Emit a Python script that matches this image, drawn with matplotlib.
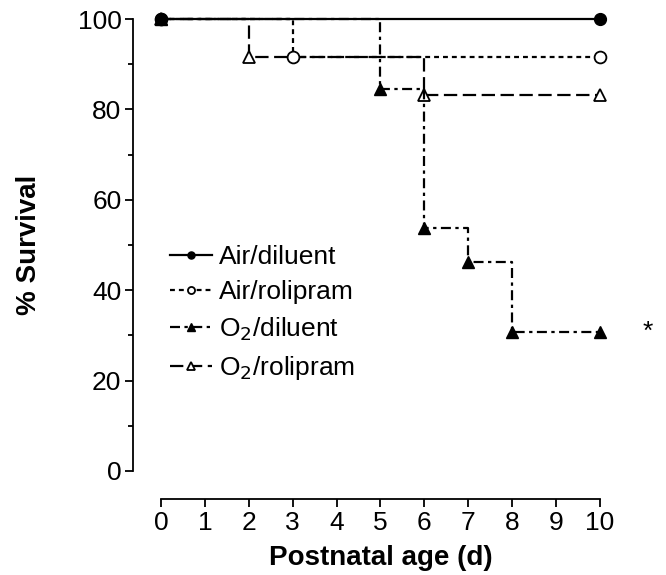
import numpy as np
from matplotlib import pyplot as plt

plt.rcParams['font.family'] = ['Liberation Sans', 'DejaVu Sans']

# survival curves (day, % survival)
air_dil_x = [0, 10]
air_dil_y = [100, 100]
air_rol_x = [0, 3, 10]
air_rol_y = [100, 91.7, 91.7]
o2_dil_x = [0, 5, 6, 7, 8, 10]
o2_dil_y = [100, 84.6, 53.8, 46.2, 30.8, 30.8]
o2_rol_x = [0, 2, 6, 10]
o2_rol_y = [100, 91.7, 83.3, 83.3]

labels = ['Air/diluent', 'Air/rolipram', 'O$_2$/diluent', 'O$_2$/rolipram']

fig = plt.figure(figsize=(6.66, 5.75), dpi=100)
ax = fig.add_axes([0.2417, 0.1809, 0.659, 0.786])

lw = 1.6
h4, = ax.plot(o2_rol_x, o2_rol_y, drawstyle='steps-post', color='black', lw=lw,
              dashes=(6, 2.5), marker='^', mfc='white', mec='black', ms=9, mew=1.3,
              zorder=2, clip_on=False, label=labels[3])
h3, = ax.plot(o2_dil_x, o2_dil_y, drawstyle='steps-post', color='black', lw=lw,
              dashes=(4.5, 2, 1.5, 2), marker='^', mfc='black', mec='black', ms=9,
              zorder=3, clip_on=False, label=labels[2])
h2, = ax.plot(air_rol_x, air_rol_y, drawstyle='steps-post', color='black', lw=lw,
              dashes=(2.2, 1.8), marker='o', mfc='white', mec='black', ms=8.5, mew=1.3,
              zorder=4, clip_on=False, label=labels[1])
h1, = ax.plot(air_dil_x, air_dil_y, drawstyle='steps-post', color='black', lw=lw,
              marker='o', mfc='black', mec='black', ms=8.5, zorder=5, clip_on=False,
              label=labels[0])

ax.text(11.1, 30.8, '*', fontsize=19, ha='center', va='center', clip_on=False)

ax.set_xlim(0, 10)
ax.set_ylim(0, 100)
ax.set_xticks(range(0, 11))
ax.set_yticks(range(0, 101, 20))
ax.set_yticks(range(10, 100, 20), minor=True)

for s in ['top', 'right']:
    ax.spines[s].set_visible(False)
ax.spines['left'].set_position(('outward', 20))
ax.spines['bottom'].set_position(('outward', 20))
ax.spines['left'].set_bounds(0, 100)
ax.spines['bottom'].set_bounds(0, 10)
for s in ['left', 'bottom']:
    ax.spines[s].set_linewidth(1.3)

ax.tick_params(axis='both', which='major', labelsize=19, width=1.3, length=5.5, pad=3)
ax.tick_params(axis='y', which='minor', width=1.3, length=3.5)

ax.set_xlabel('Postnatal age (d)', fontsize=20, fontweight='bold', va='center')
ax.set_ylabel('% Survival', fontsize=20, fontweight='bold', va='center')
ax.xaxis.set_label_coords(0.5, -0.193)
ax.yaxis.set_label_coords(-0.3, 0.5)

ax.legend(handles=[h1, h2, h3, h4], loc='upper left', bbox_to_anchor=(0.0205, 0.5),
          frameon=False, fontsize=19, handlelength=1.6, handletextpad=0.27,
          labelspacing=0.42, borderpad=0, borderaxespad=0, markerscale=0.6)

plt.savefig('out.png', dpi=100)
